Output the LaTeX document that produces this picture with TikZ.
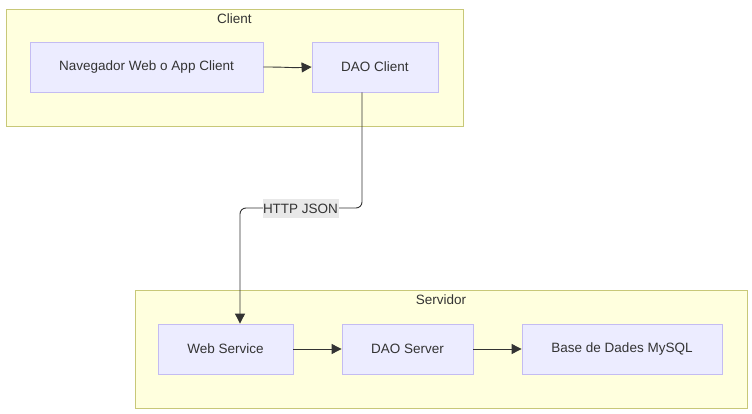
\documentclass[tikz,border=0pt]{standalone}
\usepackage{fontspec}
\setmainfont{Liberation Sans}
\usetikzlibrary{arrows.meta}
\definecolor{clfill}{HTML}{FFFFDE}
\definecolor{cldraw}{HTML}{C8C878}
\definecolor{ndfill}{HTML}{ECECFF}
\definecolor{nddraw}{HTML}{C4BCF2}
\definecolor{edge}{HTML}{333333}
\definecolor{lblbg}{HTML}{E8E8E8}
\definecolor{txt}{HTML}{333333}
\begin{document}
\begin{tikzpicture}[x=1pt,y=-1pt,
  cluster/.style={draw=cldraw,fill=clfill,line width=0.8pt},
  box/.style={draw=nddraw,fill=ndfill,line width=0.8pt,inner sep=0pt},
  lbl/.style={text=txt,font=\fontsize{13.5}{15}\selectfont},
  conn/.style={draw=edge,line width=0.9pt,-{Triangle[length=10pt,width=10pt]},rounded corners=6pt},
]
\useasboundingbox (0,0) rectangle (752,414);
% clusters
\path[cluster] (6,9) rectangle (463,126);
\node[lbl] (clientlbl) at (234.5,19) {Client};
\path[cluster] (135,290) rectangle (747,408);
\node[lbl] (servlbl) at (441,300) {Servidor};
% nodes
\node[box,lbl,minimum width=233pt,minimum height=50pt] (nav) at (146.5,67) {Navegador Web o App Client};
\node[box,lbl,minimum width=126pt,minimum height=50pt] (daoc) at (375,67) {DAO Client};
\node[box,lbl,minimum width=135pt,minimum height=50pt] (ws) at (225.5,349) {Web Service};
\node[box,lbl,minimum width=131pt,minimum height=50pt] (daos) at (407.5,349) {DAO Server};
\node[box,lbl,minimum width=200pt,minimum height=50pt] (db) at (622,349) {Base de Dades MySQL};
% edges
\draw[conn] (nav.east) .. controls (290,67) and (290,68) .. (daoc.west);
\coordinate (c1) at (362,208);
\coordinate (c2) at (240,208);
\draw[conn] (daoc.south -| c1) |- (c2) -- (ws.north -| c2);
\node[lbl,fill=lblbg,inner xsep=0.5pt,inner ysep=0pt,minimum height=19pt] (http) at (300.5,208.5) {HTTP JSON};
\draw[conn] (ws.east) -- (daos.west);
\draw[conn] (daos.east) -- (db.west);
\end{tikzpicture}
\end{document}
